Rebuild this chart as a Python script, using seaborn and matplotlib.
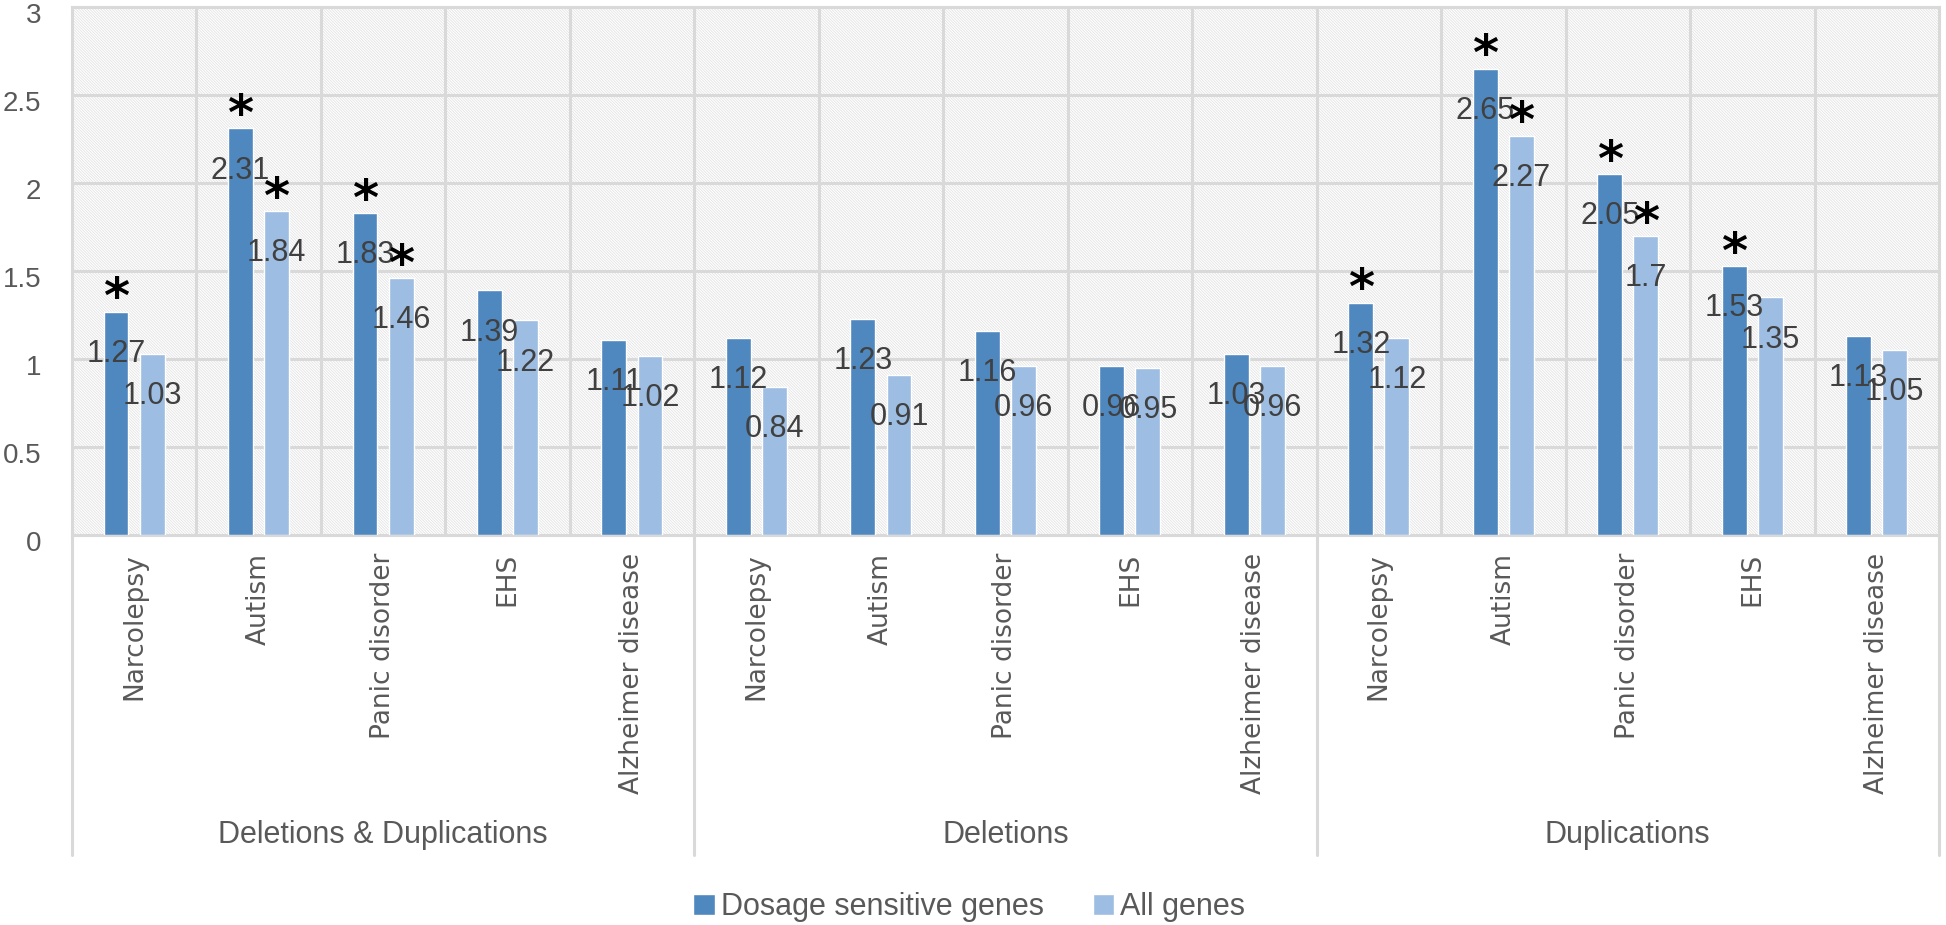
import matplotlib
matplotlib.use("Agg")
import matplotlib.pyplot as plt
import matplotlib.transforms as mtransforms
from matplotlib.patches import Rectangle, Patch
import pandas as pd
import seaborn as sns

sns.set_theme(style="white")
NARROW = ['Liberation Sans Narrow', 'Liberation Sans', 'DejaVu Sans']
plt.rcParams['font.family'] = NARROW
plt.rcParams['hatch.linewidth'] = 0.6
plt.rcParams['hatch.color'] = '#e3e3e3'

# data
groups = ['Deletions & Duplications', 'Deletions', 'Duplications']
diseases = ['Narcolepsy', 'Autism', 'Panic disorder', 'EHS', 'Alzheimer disease']
series = ['Dosage sensitive genes', 'All genes']

dosage_sensitive = [1.27, 2.31, 1.83, 1.39, 1.11,
                    1.12, 1.23, 1.16, 0.96, 1.03,
                    1.32, 2.65, 2.05, 1.53, 1.13]
all_genes = [1.03, 1.84, 1.46, 1.22, 1.02,
             0.84, 0.91, 0.96, 0.95, 0.96,
             1.12, 2.27, 1.70, 1.35, 1.05]
# significance markers (*)
dosage_star = [1, 1, 1, 0, 0, 0, 0, 0, 0, 0, 1, 1, 1, 1, 0]
all_star = [0, 1, 1, 0, 0, 0, 0, 0, 0, 0, 0, 1, 1, 0, 0]

DARK = '#4f87bf'
LIGHT = '#9dbde2'
GRID = '#d9d9d9'
TXT = '#595959'

slots = [f'{g}|{d}' for g in groups for d in diseases]
df = pd.DataFrame({
    'slot': slots * 2,
    'series': [series[0]] * len(slots) + [series[1]] * len(slots),
    'value': dosage_sensitive + all_genes,
})

fig = plt.figure(figsize=(19.46, 9.25), dpi=100)
ax = fig.add_axes([0.0369, 0.4216, 0.9595, 0.5708])

# hatched plot-area background
ax.add_patch(Rectangle((0, 0), 1, 1, transform=ax.transAxes, facecolor='white',
                       edgecolor='#e3e3e3', hatch='\\' * 12, lw=0, zorder=0))

sns.barplot(data=df, x='slot', y='value', hue='series', order=slots, hue_order=series,
            palette=[DARK, LIGHT], saturation=1, width=0.58, gap=0.31,
            legend=False, ax=ax, zorder=3)

ax.set_xlim(-0.5, len(slots) - 0.5)
ax.set_ylim(0, 3)
ax.set_yticks([0, 0.5, 1, 1.5, 2, 2.5, 3])
ax.set_yticklabels(['0', '0.5', '1', '1.5', '2', '2.5', '3'], fontsize=20, color=TXT)
ax.set_xticks(range(len(slots)))
ax.set_xticklabels(diseases * len(groups), rotation=90, fontsize=19, color=TXT,
                   family=['DejaVu Sans'], va='top')
ax.tick_params(axis='x', length=0, pad=13)
ax.tick_params(axis='y', length=0, pad=22)
ax.set_xlabel('')
ax.set_ylabel('')

# y labels sit a little below their gridlines, like in the original
shift = mtransforms.ScaledTranslation(0, -0.06, fig.dpi_scale_trans)
for lab in ax.get_yticklabels():
    lab.set_transform(lab.get_transform() + shift)

# gridlines: horizontal at ticks, vertical between categories
for yv in [0.5, 1, 1.5, 2, 2.5, 3]:
    ax.axhline(yv, color=GRID, lw=2.2, zorder=1)
for i in range(1, len(slots)):
    ax.axvline(i - 0.5, color=GRID, lw=2.2, zorder=1)
for s in ax.spines.values():
    s.set_color(GRID)
    s.set_linewidth(2.2)

# value labels and stars
for cont, vals, stars in zip(ax.containers, [dosage_sensitive, all_genes], [dosage_star, all_star]):
    for bar, v, st in zip(cont, vals, stars):
        cx = bar.get_x() + bar.get_width() / 2
        h = bar.get_height()
        ax.text(cx, h - 0.24, f'{v:g}', ha='center', va='center', fontsize=22,
                color='#404040', zorder=5)
        if st:
            ax.text(cx, h - 0.01, '*', ha='center', va='baseline', fontsize=36,
                    family=['DejaVu Sans'], fontweight='bold', color='black', zorder=5)

# group separators and labels below the axis
trans = mtransforms.blended_transform_factory(ax.transData, ax.transAxes)
n = len(diseases)
for k in range(len(groups) + 1):
    xb = k * n - 0.5
    ax.plot([xb, xb], [0, -0.606], transform=trans, color=GRID, lw=2.2, clip_on=False)
for k, g in enumerate(groups):
    ax.text(k * n + (n - 1) / 2, -0.568, g, transform=trans, ha='center', va='center',
            fontsize=22, color=TXT)

handles = [Patch(facecolor=DARK, label=series[0]), Patch(facecolor=LIGHT, label=series[1])]
fig.legend(handles=handles, loc='center', bbox_to_anchor=(0.498, 0.0195), ncol=2,
           frameon=False, fontsize=22, handlelength=0.7, handleheight=0.7,
           handletextpad=0.2, columnspacing=1.6, labelcolor=TXT)

fig.savefig('out.png', dpi=100)
